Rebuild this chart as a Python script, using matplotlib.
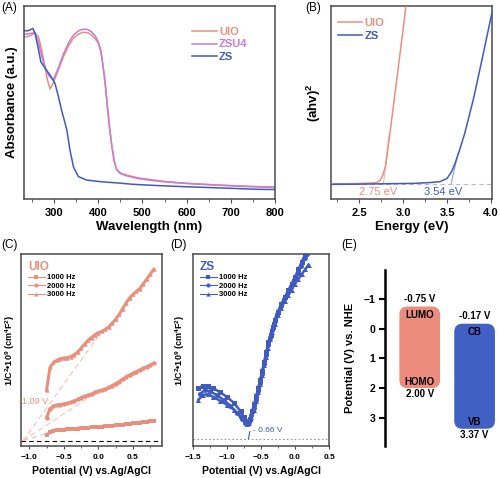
import matplotlib
matplotlib.use('Agg')
import matplotlib.pyplot as plt
from matplotlib.patches import FancyBboxPatch
from matplotlib.ticker import MultipleLocator

plt.rcParams['font.family'] = ['Liberation Sans', 'DejaVu Sans']
plt.rcParams['mathtext.fontset'] = 'custom'
plt.rcParams['mathtext.bf'] = 'Liberation Sans:bold'
plt.rcParams['mathtext.rm'] = 'Liberation Sans:bold'

C_UIO = '#E8907E'
C_ZSU4 = '#C87ADA'
C_ZS = '#3F5BBF'
FRAME = '#4a4a4a'

# ---------------- (A) UV-vis absorbance ----------------
wl_uio = [232, 245, 257, 265, 272, 279, 285, 291, 298, 310, 321, 333, 344, 356, 366, 376, 385, 393, 400, 406,
          411, 416, 421, 426, 431, 436, 441, 450, 464, 490, 520, 554, 600, 667, 720, 765, 800]
abs_uio = [0.838, 0.845, 0.86, 0.84, 0.772, 0.69, 0.617, 0.57, 0.60, 0.67, 0.736, 0.795, 0.834, 0.855, 0.864,
           0.862, 0.85, 0.83, 0.808, 0.76, 0.684, 0.59, 0.47, 0.36, 0.27, 0.20, 0.155, 0.135, 0.124, 0.11, 0.1,
           0.09, 0.082, 0.073, 0.068, 0.064, 0.062]
wl_zsu4 = [232, 245, 257, 265, 272, 280, 288, 298, 310, 321, 333, 344, 356, 366, 376, 385, 393, 400, 406, 411,
           416, 421, 426, 431, 436, 441, 450, 464, 490, 520, 554, 600, 667, 720, 765, 800]
abs_zsu4 = [0.853, 0.857, 0.862, 0.81, 0.74, 0.68, 0.64, 0.617, 0.68, 0.75, 0.81, 0.85, 0.872, 0.88, 0.878,
            0.866, 0.845, 0.815, 0.77, 0.69, 0.595, 0.475, 0.365, 0.27, 0.20, 0.155, 0.132, 0.12, 0.106, 0.096,
            0.088, 0.08, 0.072, 0.066, 0.062, 0.06]
wl_zs = [232, 242, 252, 257, 265, 270, 280, 291, 302, 310, 317, 323, 329, 336, 344, 355, 374, 404, 450, 479,
         530, 592, 680, 765, 800]
abs_zs = [0.872, 0.872, 0.884, 0.858, 0.772, 0.711, 0.677, 0.642, 0.60, 0.53, 0.46, 0.41, 0.357, 0.254, 0.166,
          0.116, 0.098, 0.09, 0.082, 0.076, 0.07, 0.064, 0.057, 0.05, 0.049]

# ---------------- (B) Tauc plot ----------------
e_uio = [2.18, 2.3, 2.45, 2.6, 2.7, 2.74, 2.77, 2.80, 2.85, 2.90, 2.95, 3.00, 3.04]
t_uio = [0.078, 0.079, 0.080, 0.082, 0.085, 0.098, 0.125, 0.17, 0.34, 0.52, 0.70, 0.88, 1.03]
e_zs = [2.18, 2.5, 2.8, 3.12, 3.3, 3.42, 3.50, 3.55, 3.59, 3.63, 3.70, 3.80, 3.90, 4.00, 4.03]
t_zs = [0.076, 0.077, 0.079, 0.081, 0.085, 0.09, 0.107, 0.141, 0.185, 0.237, 0.34, 0.52, 0.73, 0.945, 1.01]
eg_uio = 2.75
eg_zs = 3.54

# ---------------- (C) Mott-Schottky UIO ----------------
v_c = [-0.75, -0.70, -0.65, -0.60, -0.55, -0.50, -0.45, -0.40, -0.35, -0.30, -0.25, -0.20, -0.15, -0.10, -0.05,
       0.00, 0.05, 0.10, 0.15, 0.20, 0.25, 0.30, 0.35, 0.40, 0.45, 0.50, 0.55, 0.60, 0.65, 0.70, 0.75, 0.80]
c_1000 = [0.057, 0.072, 0.078, 0.082, 0.084, 0.085, 0.087, 0.088, 0.090, 0.091, 0.093, 0.094, 0.096, 0.097, 0.099,
          0.100, 0.101, 0.102, 0.104, 0.106, 0.107, 0.109, 0.111, 0.114, 0.116, 0.118, 0.120, 0.122, 0.124, 0.126,
          0.128, 0.130]
c_2000 = [0.147, 0.195, 0.207, 0.212, 0.216, 0.219, 0.222, 0.228, 0.235, 0.243, 0.252, 0.259, 0.264, 0.270, 0.279,
          0.285, 0.290, 0.296, 0.305, 0.315, 0.325, 0.335, 0.348, 0.360, 0.370, 0.378, 0.387, 0.396, 0.404, 0.413,
          0.421, 0.430]
c_3000 = [0.29, 0.41, 0.435, 0.447, 0.455, 0.458, 0.46, 0.465, 0.475, 0.49, 0.51, 0.53, 0.55, 0.565, 0.58,
          0.59, 0.597, 0.607, 0.62, 0.64, 0.66, 0.685, 0.715, 0.745, 0.77, 0.79, 0.805, 0.82, 0.845, 0.87,
          0.895, 0.92]
fb_uio = -1.09

# ---------------- (D) Mott-Schottky ZS ----------------
v_d1 = [-1.42, -1.35, -1.28, -1.2, -1.1, -1.0, -0.9, -0.8, -0.75, -0.72, -0.69, -0.66, -0.63, -0.6, -0.57, -0.54,
        -0.51, -0.48, -0.45, -0.42, -0.39, -0.36, -0.33, -0.3, -0.25, -0.2, -0.15, -0.1, -0.05, 0.0, 0.05, 0.1, 0.15]
d_1000 = [0.30, 0.315, 0.315, 0.30, 0.28, 0.255, 0.225, 0.18, 0.15, 0.13, 0.122, 0.14, 0.18, 0.22, 0.26, 0.30,
          0.345, 0.39, 0.44, 0.49, 0.54, 0.58, 0.62, 0.655, 0.70, 0.74, 0.775, 0.81, 0.845, 0.88, 0.92, 0.96, 1.0]
v_d2 = [-1.40, -1.33, -1.25, -1.15, -1.05, -0.95, -0.85, -0.78, -0.73, -0.70, -0.67, -0.64, -0.61, -0.58, -0.55,
        -0.52, -0.49, -0.46, -0.43, -0.40, -0.37, -0.34, -0.31, -0.26, -0.21, -0.16, -0.11, -0.06, -0.01, 0.04,
        0.09, 0.14, 0.17]
d_2000 = [0.27, 0.29, 0.285, 0.265, 0.24, 0.21, 0.17, 0.14, 0.12, 0.115, 0.125, 0.16, 0.2, 0.24, 0.285, 0.33,
          0.375, 0.425, 0.475, 0.525, 0.565, 0.605, 0.64, 0.69, 0.73, 0.765, 0.80, 0.83, 0.865, 0.90, 0.94, 0.98, 1.0]
v_d3 = [-1.42, -1.36, -1.28, -1.2, -1.1, -1.0, -0.9, -0.8, -0.74, -0.70, -0.67, -0.64, -0.61, -0.58, -0.55, -0.52,
        -0.49, -0.46, -0.43, -0.40, -0.37, -0.34, -0.30, -0.25, -0.2, -0.15, -0.1, -0.05, 0.0, 0.05, 0.1, 0.15, 0.2]
d_3000 = [0.24, 0.265, 0.27, 0.255, 0.235, 0.215, 0.19, 0.155, 0.125, 0.112, 0.12, 0.15, 0.19, 0.235, 0.28, 0.325,
          0.37, 0.42, 0.465, 0.51, 0.555, 0.595, 0.635, 0.68, 0.72, 0.755, 0.785, 0.815, 0.845, 0.87, 0.895, 0.92,
          0.945]
fb_zs = -0.66

# ---------------- (E) band positions ----------------
band_names = ['UIO', 'ZS']
band_top = [-0.75, -0.17]
band_bottom = [2.00, 3.37]
top_names = ['LUMO', 'CB']
bottom_names = ['HOMO', 'VB']
band_colors = ['#EC8C7C', '#4160C6']

freq_labels = ['1000 Hz', '2000 Hz', '3000 Hz']

fig = plt.figure(figsize=(5, 4.78), dpi=100)
W, H = 500, 478


def add_ax(l, r, t, b):
    return fig.add_axes([l / W, 1 - b / H, (r - l) / W, (b - t) / H])


def style_frame(ax, lw=1.1):
    for s in ax.spines.values():
        s.set_color(FRAME)
        s.set_linewidth(lw)
    ax.tick_params(which='both', direction='out', colors=FRAME, labelcolor='black')


# ---- A ----
axA = add_ax(24, 275, 6, 199)
axA.plot(wl_uio, abs_uio, color=C_UIO, lw=1.1, label='UIO')
axA.plot(wl_zsu4, abs_zsu4, color=C_ZSU4, lw=1.1, label='ZSU4')
axA.plot(wl_zs, abs_zs, color=C_ZS, lw=1.1, label='ZS')
axA.set_xlim(232, 800)
axA.set_ylim(0, 1)
axA.set_yticks([])
axA.xaxis.set_major_locator(MultipleLocator(100))
axA.xaxis.set_minor_locator(MultipleLocator(50))
style_frame(axA)
axA.tick_params(which='major', length=3, labelsize=8)
axA.tick_params(which='minor', length=2)
for lb in axA.get_xticklabels():
    lb.set_fontweight('bold')
axA.set_xlabel('Wavelength (nm)', fontsize=9.5, fontweight='bold', labelpad=2)
axA.set_ylabel('Absorbance (a.u.)', fontsize=9.5, fontweight='bold', labelpad=4)
legA = axA.legend(loc='upper right', bbox_to_anchor=(0.93, 0.945), frameon=False, handlelength=2.2,
                  handletextpad=0.2, labelspacing=0.25, labelcolor='linecolor',
                  prop={'weight': 'bold', 'size': 8})

# ---- B ----
axB = add_ax(331, 492, 6, 199)
axB.axhline(0.078, color='#bbbbbb', lw=0.8, ls=(0, (4, 3)), zorder=1)
axB.plot(e_uio, t_uio, color=C_UIO, lw=1.1, label='UIO', zorder=3)
axB.plot(e_zs, t_zs, color=C_ZS, lw=1.1, label='ZS', zorder=3)
axB.plot([eg_uio + 0.026, eg_uio + 0.09], [0.078, 0.078 + 4.0 * 0.064], color='#f2b8a8', lw=0.8, zorder=2)
axB.plot([eg_zs + 0.005, eg_zs + 0.085], [0.078, 0.078 + 2.0 * 0.08], color='#8f9fdc', lw=0.8, zorder=2)
axB.text(eg_uio - 0.04, 0.038, f'{eg_uio:.2f} eV', color=C_UIO, fontsize=8, ha='center', va='center')
axB.text(eg_zs - 0.085, 0.038, f'{eg_zs:.2f} eV', color=C_ZS, fontsize=8, ha='center', va='center')
axB.set_xlim(2.18, 4.01)
axB.set_ylim(0, 1)
axB.set_yticks([])
axB.xaxis.set_major_locator(MultipleLocator(0.5))
axB.xaxis.set_minor_locator(MultipleLocator(0.25))
style_frame(axB)
axB.tick_params(which='major', length=3, labelsize=8)
axB.tick_params(which='minor', length=2)
for lb in axB.get_xticklabels():
    lb.set_fontweight('bold')
axB.set_xlabel('Energy (eV)', fontsize=9.5, fontweight='bold', labelpad=2)
axB.set_ylabel(r'(ahv)$^{\mathbf{2}}$', fontsize=9.5, fontweight='bold', labelpad=6)
axB.legend(loc='upper left', bbox_to_anchor=(-0.02, 0.99), frameon=False, handlelength=2.2,
           handletextpad=0.2, labelspacing=0.25, labelcolor='linecolor',
           prop={'weight': 'bold', 'size': 8})

YLAB_MS = r'1/C$^{\mathbf{2}}$•10$^{\mathbf{9}}$ (cm$^{\mathbf{4}}$F$^{\mathbf{2}}$)'

# ---- C ----
axC = add_ax(21, 162, 254, 446)
axC.axhline(0.028, color='black', lw=0.8, ls=(0, (4, 3)), zorder=1)
for vx, vy in [(0.05, 0.597), (0.0, 0.285), (-0.6, 0.082)]:
    axC.plot([fb_uio, vx], [0.028, vy], color='#f5c2b5', lw=0.8, ls=(0, (5, 3)), zorder=1)
mk = dict(color=C_UIO, lw=2.2, ms=3.2, markeredgewidth=0)
axC.plot(v_c, c_1000, marker='s', label=freq_labels[0], **mk)
axC.plot(v_c, c_2000, marker='o', label=freq_labels[1], **mk)
axC.plot(v_c, c_3000, marker='^', label=freq_labels[2], **mk)
axC.text(-0.94, 0.23, f'{fb_uio:.2f} V', color=C_UIO, fontsize=6.5, ha='center', va='center')
axC.set_xlim(-1.12, 0.92)
axC.set_ylim(0, 1)
axC.set_yticks([])
axC.xaxis.set_major_locator(MultipleLocator(0.5))
axC.xaxis.set_minor_locator(MultipleLocator(0.25))
style_frame(axC)
axC.tick_params(which='major', length=2.5, labelsize=6)
axC.tick_params(which='minor', length=1.5)
for lb in axC.get_xticklabels():
    lb.set_fontweight('bold')
axC.set_xlabel('Potential (V) vs.Ag/AgCl', fontsize=7.5, fontweight='bold', labelpad=3)
axC.set_ylabel(YLAB_MS, fontsize=6.5, fontweight='bold', labelpad=3)
legC = axC.legend(loc='upper left', bbox_to_anchor=(0.0, 1.0), frameon=False, handlelength=2.2,
                  handletextpad=0.3, labelspacing=0.15, prop={'weight': 'bold', 'size': 5.5},
                  title='UIO', title_fontproperties={'weight': 'bold', 'size': 8.5}, alignment='left')
legC.get_title().set_color(C_UIO)
for ln in legC.get_lines():
    ln.set_linewidth(0.8)
    ln.set_markersize(3)

# ---- D ----
axD = add_ax(193, 329, 254, 446)
axD.axhline(0.035, color='#999999', lw=0.8, ls=(0, (1.5, 2)), zorder=1)
mkd = dict(color=C_ZS, lw=1.8, ms=3.6, markeredgewidth=0)
axD.plot(v_d1, d_1000, marker='s', label=freq_labels[0], **mkd)
axD.plot(v_d2, d_2000, marker='o', label=freq_labels[1], **mkd)
axD.plot(v_d3, d_3000, marker='^', label=freq_labels[2], **mkd)
axD.plot([fb_zs - 0.025, fb_zs - 0.005], [0.038, 0.075], color=C_ZS, lw=0.8)
axD.text(fb_zs + 0.04, 0.08, f'- {abs(fb_zs):.2f} V', color=C_ZS, fontsize=6, ha='left', va='center')
axD.set_xlim(-1.5, 0.5)
axD.set_ylim(0, 1)
axD.set_yticks([])
axD.xaxis.set_major_locator(MultipleLocator(0.5))
axD.xaxis.set_minor_locator(MultipleLocator(0.25))
style_frame(axD)
axD.tick_params(which='major', length=2.5, labelsize=6)
axD.tick_params(which='minor', length=1.5)
for lb in axD.get_xticklabels():
    lb.set_fontweight('bold')
axD.set_xlabel('Potential (V) vs.Ag/AgCl', fontsize=7.5, fontweight='bold', labelpad=3)
axD.set_ylabel(YLAB_MS, fontsize=6.5, fontweight='bold', labelpad=4)
legD = axD.legend(loc='upper left', bbox_to_anchor=(0.0, 1.0), frameon=False, handlelength=2.2,
                  handletextpad=0.3, labelspacing=0.15, prop={'weight': 'bold', 'size': 5.5},
                  title='ZS', title_fontproperties={'weight': 'bold', 'size': 8.5}, alignment='left')
legD.get_title().set_color(C_ZS)
for ln in legD.get_lines():
    ln.set_linewidth(0.8)
    ln.set_markersize(3)

# ---- E ----
axE = add_ax(385, 497, 270, 446)
axE.set_xlim(0, 3)
axE.set_ylim(3.95, -1.98)
centers = [0.93, 2.40]
bw = 1.09
for i in range(2):
    x0 = centers[i] - bw / 2
    box = FancyBboxPatch((x0, band_top[i]), bw, band_bottom[i] - band_top[i],
                         boxstyle='round,pad=0,rounding_size=0.22', mutation_aspect=1.25,
                         facecolor=band_colors[i], edgecolor='none')
    axE.add_patch(box)
    axE.text(centers[i], band_top[i] - 0.25, f'{band_top[i]:.2f} V', fontsize=7, fontweight='bold',
             ha='center', va='center')
    axE.text(centers[i], band_top[i] + 0.28, top_names[i], fontsize=7, fontweight='bold',
             ha='center', va='center')
    axE.text(centers[i], band_bottom[i] - 0.22, bottom_names[i], fontsize=7, fontweight='bold',
             ha='center', va='center')
    axE.text(centers[i], band_bottom[i] + 0.2, f'{band_bottom[i]:.2f} V', fontsize=7, fontweight='bold',
             ha='center', va='center')
for s in ['top', 'right', 'bottom']:
    axE.spines[s].set_visible(False)
axE.spines['left'].set_linewidth(1.8)
axE.set_xticks([])
axE.set_yticks([-1, 0, 1, 2, 3])
axE.tick_params(axis='y', direction='out', length=4, width=1.5, labelsize=7.5, pad=3)
for lb in axE.get_yticklabels():
    lb.set_fontweight('bold')
axE.set_ylabel('Potential (V) vs. NHE', fontsize=8, fontweight='bold', labelpad=6)

# panel letters
for txt, px, py in [('(A)', 1, 8), ('(B)', 305, 8), ('(C)', 1, 245), ('(D)', 170, 245), ('(E)', 341, 245)]:
    fig.text(px / W, 1 - py / H, txt, fontsize=8.5, ha='left', va='center')

fig.savefig('out.png', dpi=100)
